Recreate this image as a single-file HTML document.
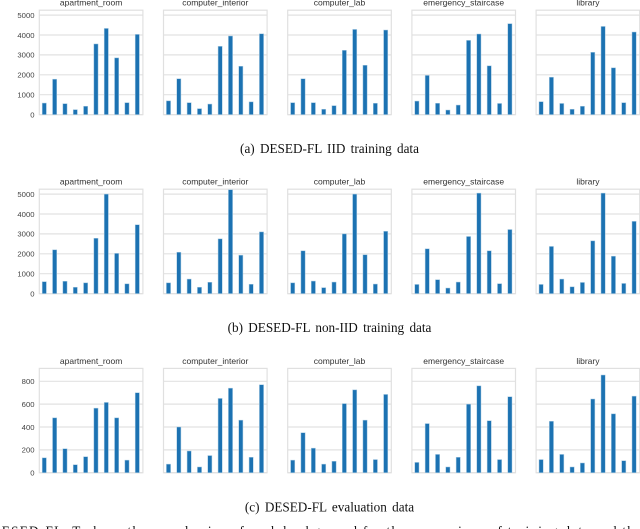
<!DOCTYPE html>
<html>
<head>
<meta charset="utf-8">
<title>DESED-FL data distribution</title>
<style>
html,body{margin:0;padding:0;background:#fff;width:640px;height:529px;overflow:hidden}
svg{display:block;position:absolute;left:0;top:0}
.tick{font:7.7px "Liberation Sans",sans-serif;fill:#444;text-anchor:end}
.ptitle{font:8.5px "Liberation Sans",sans-serif;fill:#333;text-anchor:middle}
.cap{font:13.2px "Liberation Serif",serif;fill:#111;text-anchor:middle;word-spacing:2px}
.body{font:13.2px "Liberation Serif",serif;fill:#111}
</style>
</head>
<body>
<svg id="chart" width="640" height="529" viewBox="0 0 640 529" xmlns="http://www.w3.org/2000/svg">
<defs><filter id="soft" x="-2%" y="-2%" width="104%" height="104%"><feGaussianBlur stdDeviation="0.3"/></filter></defs>
<g id="plots" filter="url(#soft)"></g>
<text class="cap" x="329.500" y="153">(a) DESED-FL IID training data</text>
<text class="cap" x="329.500" y="332">(b) DESED-FL non-IID training data</text>
<text class="cap" x="329.500" y="511.500">(c) DESED-FL evaluation data</text>
<text class="body" x="-9" y="535.500" textLength="650">DESED-FL. To keep the sample size of each background for the comparison of training data and the</text>
</svg>
<script>
const rooms = ["apartment_room", "computer_interior", "computer_lab", "emergency_staircase", "library"];

const iidApartment = [580, 1780, 550, 250, 420, 3550, 4330, 2850, 600, 4030];
const iidInterior = [690, 1800, 600, 300, 530, 3430, 3950, 2430, 640, 4060];
const iidLab = [600, 1800, 600, 270, 450, 3230, 4280, 2480, 570, 4250];
const iidEmergency = [680, 1970, 570, 230, 480, 3730, 4050, 2450, 560, 4570];
const iidLibrary = [650, 1880, 560, 270, 420, 3130, 4430, 2350, 600, 4150];

const nonIidApartment = [600, 2200, 620, 320, 540, 2780, 5000, 2020, 490, 3460];
const nonIidInterior = [540, 2080, 730, 320, 570, 2750, 5220, 1930, 470, 3100];
const nonIidLab = [540, 2150, 630, 300, 580, 3000, 5000, 1950, 480, 3130];
const nonIidEmergency = [460, 2250, 700, 280, 580, 2870, 5050, 2150, 500, 3220];
const nonIidLibrary = [460, 2370, 730, 340, 560, 2650, 5050, 1880, 510, 3630];

const evalApartment = [130, 480, 210, 70, 140, 565, 615, 480, 110, 700];
const evalInterior = [75, 400, 190, 50, 150, 650, 740, 460, 135, 770];
const evalLab = [110, 350, 215, 75, 100, 605, 725, 460, 115, 685];
const evalEmergency = [90, 430, 160, 50, 135, 600, 760, 455, 115, 665];
const evalLibrary = [115, 450, 160, 50, 85, 645, 855, 515, 105, 670];

const trainTicks = [0, 1000, 2000, 3000, 4000, 5000];
const evalTicks = [0, 200, 400, 600, 800];

const iidSeries = [iidApartment, iidInterior, iidLab, iidEmergency, iidLibrary];
const nonIidSeries = [nonIidApartment, nonIidInterior, nonIidLab, nonIidEmergency, nonIidLibrary];
const evalSeries = [evalApartment, evalInterior, evalLab, evalEmergency, evalLibrary];

const NS = "http://www.w3.org/2000/svg";
const plots = document.getElementById("plots");

function make(tag, attrs, parent) {
  const el = document.createElementNS(NS, tag);
  for (const k in attrs) el.setAttribute(k, attrs[k]);
  parent.appendChild(el);
  return el;
}

function drawRow(series, ticks, top, bottom, unitPx) {
  const yScale = v => bottom - v * unitPx;
  series.forEach((values, p) => {
    const left = 39.3 + p * 124.2;
    const width = 103.6;
    const xScale = i => left + 5 + i * ((width - 10.6) / (values.length - 1));
    const panel = make("g", {}, plots);
    
    

    const title = make("text", {class: "ptitle", x: left + width / 2, y: top - 4.5}, panel);
    title.textContent = rooms[p];
    
    

    ticks.forEach(t => {
      const grid = make("line", {x1: left, x2: left + width, y1: yScale(t), y2: yScale(t), stroke: "#e2e2e2", "stroke-width": 1.2}, panel);
      
      
      if (p === 0) {
        const label = make("text", {class: "tick", x: 34.5, y: yScale(t) + 2.8}, panel);
        label.textContent = t;
        
        
      }
    });

    const frame = make("rect", {x: left, y: top, width: width, height: bottom - top, fill: "none", stroke: "#e0e0e0", "stroke-width": 1.2}, panel);
    
    

    values.forEach((v, i) => {
      const bar = make("rect", {x: xScale(i) - 2.1, y: yScale(v), width: 4.2, height: bottom - yScale(v), fill: "#1a72b2", stroke: "#a9cbe3", "stroke-width": 0.5}, panel);
      
      
    });
  });
}

drawRow(iidSeries, trainTicks, 10.2, 114.6, 19.9 / 1000);
drawRow(nonIidSeries, trainTicks, 189.2, 293.6, 19.9 / 1000);
drawRow(evalSeries, evalTicks, 368.4, 472.7, 22.85 / 200);
</script>
</body>
</html>
